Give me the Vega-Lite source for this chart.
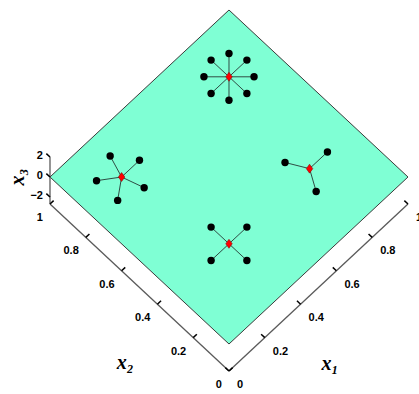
{
  "$schema": "https://vega.github.io/schema/vega-lite/v6.json",
  "width": 419,
  "height": 394,
  "autosize": {"type": "none"},
  "padding": 0,
  "config": {"view": {"stroke": null}},
  "data": {
    "values": [
      {"kind": "plane", "o": 0, "x1": 0, "x2": 0, "x3": 0},
      {"kind": "plane", "o": 1, "x1": 1, "x2": 0, "x3": 0},
      {"kind": "plane", "o": 2, "x1": 1, "x2": 1, "x3": 0},
      {"kind": "plane", "o": 3, "x1": 0, "x2": 1, "x3": 0},
      {"kind": "plane", "o": 4, "x1": 0, "x2": 0, "x3": 0},

      {"kind": "axis", "ax": "x1", "x1": 0, "x2": 0, "x3": -2.7},
      {"kind": "axis", "ax": "x1", "x1": 1, "x2": 0, "x3": -2.7},
      {"kind": "axis", "ax": "x2", "x1": 0, "x2": 0, "x3": -2.7},
      {"kind": "axis", "ax": "x2", "x1": 0, "x2": 1, "x3": -2.7},
      {"kind": "axis", "ax": "x3", "x1": 0, "x2": 1, "x3": -2.7},
      {"kind": "axis", "ax": "x3", "x1": 0, "x2": 1, "x3": 2},

      {"kind": "tick", "ax": "x1", "x1": 0, "x2": 0, "x3": -2.7},
      {"kind": "tick", "ax": "x1", "x1": 0.2, "x2": 0, "x3": -2.7},
      {"kind": "tick", "ax": "x1", "x1": 0.4, "x2": 0, "x3": -2.7},
      {"kind": "tick", "ax": "x1", "x1": 0.6, "x2": 0, "x3": -2.7},
      {"kind": "tick", "ax": "x1", "x1": 0.8, "x2": 0, "x3": -2.7},
      {"kind": "tick", "ax": "x1", "x1": 1, "x2": 0, "x3": -2.7},
      {"kind": "tick", "ax": "x2", "x1": 0, "x2": 0, "x3": -2.7},
      {"kind": "tick", "ax": "x2", "x1": 0, "x2": 0.2, "x3": -2.7},
      {"kind": "tick", "ax": "x2", "x1": 0, "x2": 0.4, "x3": -2.7},
      {"kind": "tick", "ax": "x2", "x1": 0, "x2": 0.6, "x3": -2.7},
      {"kind": "tick", "ax": "x2", "x1": 0, "x2": 0.8, "x3": -2.7},
      {"kind": "tick", "ax": "x2", "x1": 0, "x2": 1, "x3": -2.7},
      {"kind": "tick", "ax": "x3", "x1": 0, "x2": 1, "x3": -2},
      {"kind": "tick", "ax": "x3", "x1": 0, "x2": 1, "x3": 0},
      {"kind": "tick", "ax": "x3", "x1": 0, "x2": 1, "x3": 2},

      {"kind": "title", "ax": "x1", "t": "x₁", "x1": 0.303, "x2": -0.261, "x3": -2.7},
      {"kind": "title", "ax": "x2", "t": "x₂", "x1": -0.266, "x2": 0.314, "x3": -2.7},
      {"kind": "title", "ax": "x3", "t": "x₃", "x1": -0.09, "x2": 1.09, "x3": 0},

      {"kind": "node", "g": "a", "role": "hub", "x1": 0.8, "x2": 0.8, "x3": 0},
      {"kind": "node", "g": "a", "role": "leaf", "x1": 0.9, "x2": 0.8, "x3": 0},
      {"kind": "node", "g": "a", "role": "leaf", "x1": 0.87, "x2": 0.87, "x3": 0},
      {"kind": "node", "g": "a", "role": "leaf", "x1": 0.8, "x2": 0.9, "x3": 0},
      {"kind": "node", "g": "a", "role": "leaf", "x1": 0.73, "x2": 0.87, "x3": 0},
      {"kind": "node", "g": "a", "role": "leaf", "x1": 0.7, "x2": 0.8, "x3": 0},
      {"kind": "node", "g": "a", "role": "leaf", "x1": 0.73, "x2": 0.73, "x3": 0},
      {"kind": "node", "g": "a", "role": "leaf", "x1": 0.8, "x2": 0.7, "x3": 0},
      {"kind": "node", "g": "a", "role": "leaf", "x1": 0.87, "x2": 0.73, "x3": 0},

      {"kind": "node", "g": "b", "role": "hub", "x1": 0.2, "x2": 0.8, "x3": 0},
      {"kind": "node", "g": "b", "role": "leaf", "x1": 0.3, "x2": 0.8, "x3": 0},
      {"kind": "node", "g": "b", "role": "leaf", "x1": 0.231, "x2": 0.895, "x3": 0},
      {"kind": "node", "g": "b", "role": "leaf", "x1": 0.119, "x2": 0.859, "x3": 0},
      {"kind": "node", "g": "b", "role": "leaf", "x1": 0.119, "x2": 0.741, "x3": 0},
      {"kind": "node", "g": "b", "role": "leaf", "x1": 0.231, "x2": 0.705, "x3": 0},

      {"kind": "node", "g": "c", "role": "hub", "x1": 0.75, "x2": 0.3, "x3": 0},
      {"kind": "node", "g": "c", "role": "leaf", "x1": 0.85, "x2": 0.3, "x3": 0},
      {"kind": "node", "g": "c", "role": "leaf", "x1": 0.7, "x2": 0.387, "x3": 0},
      {"kind": "node", "g": "c", "role": "leaf", "x1": 0.7, "x2": 0.213, "x3": 0},

      {"kind": "node", "g": "d", "role": "hub", "x1": 0.3, "x2": 0.3, "x3": 0},
      {"kind": "node", "g": "d", "role": "leaf", "x1": 0.4, "x2": 0.3, "x3": 0},
      {"kind": "node", "g": "d", "role": "leaf", "x1": 0.3, "x2": 0.4, "x3": 0},
      {"kind": "node", "g": "d", "role": "leaf", "x1": 0.2, "x2": 0.3, "x3": 0},
      {"kind": "node", "g": "d", "role": "leaf", "x1": 0.3, "x2": 0.2, "x3": 0}
    ]
  },
  "transform": [
    {"calculate": "datum.x1 - datum.x2", "as": "px"},
    {"calculate": "datum.x1 + datum.x2 + 0.0599 * datum.x3", "as": "py"}
  ],
  "encoding": {
    "x": {"field": "px", "type": "quantitative", "axis": null,
          "scale": {"domain": [-1.2793, 1.0615], "nice": false, "zero": false}},
    "y": {"field": "py", "type": "quantitative", "axis": null,
          "scale": {"domain": [-0.2994, 2.0599], "nice": false, "zero": false}}
  },
  "layer": [
    {
      "transform": [{"filter": "datum.kind === 'plane'"}],
      "mark": {"type": "line", "fill": "#7fffd4", "stroke": "#3a3a3a", "strokeWidth": 1},
      "encoding": {"order": {"field": "o", "type": "quantitative"}}
    },
    {
      "transform": [{"filter": "datum.kind === 'axis'"}],
      "mark": {"type": "line", "stroke": "#5a5a5a", "strokeWidth": 1.3},
      "encoding": {"detail": {"field": "ax"}}
    },
    {
      "transform": [{"filter": "datum.kind === 'tick' && datum.ax === 'x2'"}],
      "mark": {"type": "point", "shape": "M0,0L0.73,-0.68", "size": 100, "filled": false, "stroke": "black", "strokeWidth": 1.5, "opacity": 1}
    },
    {
      "transform": [{"filter": "datum.kind === 'tick' && datum.ax !== 'x2'"}],
      "mark": {"type": "point", "shape": "M0,0L-0.73,-0.68", "size": 100, "filled": false, "stroke": "black", "strokeWidth": 1.5, "opacity": 1}
    },
    {
      "transform": [{"filter": "datum.kind === 'tick' && datum.ax === 'x1'"}],
      "mark": {"type": "text", "align": "left", "baseline": "middle", "dx": 8, "dy": 14, "font": "Liberation Sans", "fontSize": 11, "fontWeight": "bold", "color": "black"},
      "encoding": {"text": {"field": "x1", "type": "quantitative", "format": ".1~f"}}
    },
    {
      "transform": [{"filter": "datum.kind === 'tick' && datum.ax === 'x2'"}],
      "mark": {"type": "text", "align": "right", "baseline": "middle", "dx": -7, "dy": 14, "font": "Liberation Sans", "fontSize": 11, "fontWeight": "bold", "color": "black"},
      "encoding": {"text": {"field": "x2", "type": "quantitative", "format": ".1~f"}}
    },
    {
      "transform": [{"filter": "datum.kind === 'tick' && datum.ax === 'x3'"}],
      "mark": {"type": "text", "align": "right", "baseline": "middle", "dx": -7, "dy": -1, "font": "Liberation Sans", "fontSize": 11, "fontWeight": "bold", "color": "black"},
      "encoding": {"text": {"field": "x3", "type": "quantitative", "format": ".1~f"}}
    },
    {
      "transform": [{"filter": "datum.kind === 'title' && datum.ax !== 'x3'"}],
      "mark": {"type": "text", "align": "center", "baseline": "middle", "font": "Liberation Serif", "fontStyle": "italic", "fontWeight": "bold", "fontSize": 20, "color": "black"},
      "encoding": {"text": {"field": "t"}}
    },
    {
      "transform": [{"filter": "datum.kind === 'title' && datum.ax === 'x3'"}],
      "mark": {"type": "text", "align": "center", "baseline": "middle", "angle": 270, "font": "Liberation Serif", "fontStyle": "italic", "fontWeight": "bold", "fontSize": 20, "color": "black"},
      "encoding": {"text": {"field": "t"}}
    },
    {
      "transform": [
        {"filter": "datum.kind === 'node'"},
        {"calculate": "datum.role === 'hub' ? datum.px : null", "as": "hx"},
        {"calculate": "datum.role === 'hub' ? datum.py : null", "as": "hy"},
        {"joinaggregate": [{"op": "max", "field": "hx", "as": "hpx"}, {"op": "max", "field": "hy", "as": "hpy"}], "groupby": ["g"]},
        {"filter": "datum.role === 'leaf'"}
      ],
      "mark": {"type": "rule", "stroke": "#2f4d44", "strokeWidth": 1},
      "encoding": {
        "x2": {"field": "hpx"},
        "y2": {"field": "hpy"}
      }
    },
    {
      "transform": [{"filter": "datum.kind === 'node' && datum.role === 'leaf'"}],
      "mark": {"type": "point", "shape": "circle", "size": 55, "filled": true, "color": "black", "opacity": 1}
    },
    {
      "transform": [{"filter": "datum.kind === 'node' && datum.role === 'hub'"}],
      "mark": {"type": "point", "shape": "M0,-1L0.72,0L0,1L-0.72,0Z", "size": 81, "filled": true, "fill": "#ff0000", "stroke": "#7a0000", "strokeWidth": 0.5, "opacity": 1}
    }
  ]
}
